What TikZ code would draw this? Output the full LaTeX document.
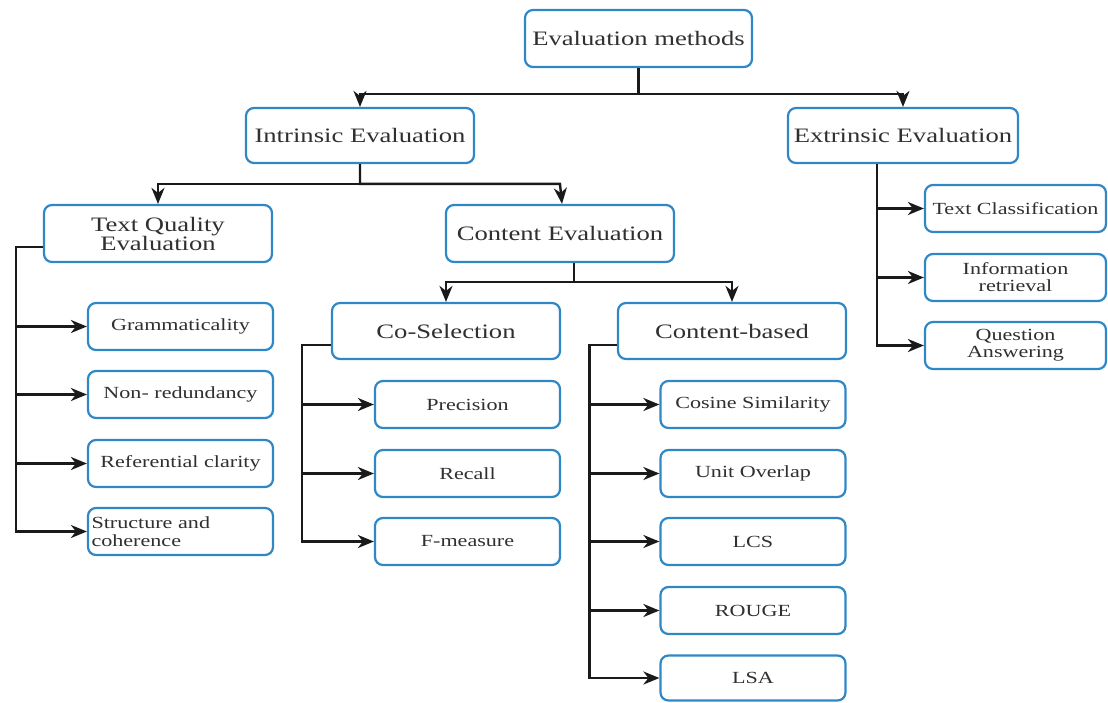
\documentclass[tikz,border=0pt]{standalone}
\usepackage{fontspec}
\setmainfont{Liberation Serif}[FakeStretch=1.3]
\usetikzlibrary{arrows.meta}
\definecolor{bblue}{HTML}{2F87C5}
\definecolor{tgray}{HTML}{303030}
\definecolor{lblack}{HTML}{1A1A1A}
\begin{document}
\begin{tikzpicture}[x=1pt,y=-1pt,
  box/.style={draw=bblue, line width=2.2pt, rounded corners=8pt, fill=white, text=tgray, inner sep=0pt},
  big/.style={box, font=\fontsize{20.5}{19}\selectfont, align=center},
  leaf/.style={box, font=\fontsize{17}{17}\selectfont, minimum width=185pt, minimum height=47pt, align=center},
  conn/.style={line width=2.4pt, draw=lblack},
  arr/.style={conn, -{Stealth[length=16pt, width=13pt, inset=5pt]}}
]
\useasboundingbox (0,0) rectangle (1108,702);
% top levels
\node[big, minimum width=227pt, minimum height=57pt] (root) at (638.5,38.5) {Evaluation methods};
\node[big, minimum width=228pt, minimum height=55pt] (intr) at (360,135.5) {Intrinsic Evaluation};
\node[big, minimum width=230pt, minimum height=55pt] (extr) at (903,135.5) {Extrinsic Evaluation};
\node[big, minimum width=228pt, minimum height=57pt] (tqe) at (158,233.5) {Text Quality\\Evaluation};
\node[big, minimum width=228pt, minimum height=57pt] (ce) at (560,233.5) {Content Evaluation};
\node[big, minimum width=228pt, minimum height=56pt] (cosel) at (446,331) {Co-Selection};
\node[big, minimum width=228pt, minimum height=56pt] (cbased) at (732,331) {Content-based};
% text quality leaves
\node[leaf] (gram) at (180.5,326.5) {Grammaticality};
\node[leaf] (nonr) at (180.5,394.5) {Non- redundancy};
\node[leaf] (refc) at (180.5,463.5) {Referential clarity};
\node[leaf, text width=178pt, inner xsep=3.5pt, align=left, font=\fontsize{17}{18}\selectfont] (struc) at (180.5,531.5) {Structure and\\coherence};
% co-selection leaves
\node[leaf] (prec) at (467.5,404.5) {Precision};
\node[leaf] (recl) at (467.5,473.5) {Recall};
\node[leaf] (fmea) at (467.5,541.5) {F-measure};
% content-based leaves
\node[leaf] (cosn) at (753,404.5) {Cosine Similarity};
\node[leaf] (unit) at (753,473.5) {Unit Overlap};
\node[leaf] (lcs) at (753,541.5) {LCS};
\node[leaf] (roug) at (753,610.5) {ROUGE};
\node[leaf, minimum height=45pt] (lsa) at (753,678) {LSA};
% extrinsic leaves
\node[leaf, minimum width=181pt] (txtc) at (1015.5,208.5) {Text Classification};
\node[leaf, minimum width=181pt] (info) at (1015.5,277.5) {Information\\retrieval};
\node[leaf, minimum width=181pt] (qans) at (1015.5,345.5) {Question\\Answering};
% connectors
\draw[arr] (root.south) |- ([yshift=13pt]intr.north) -- (intr.north);
\draw[arr] (root.south) |- ([yshift=13pt]extr.north) -- (extr.north);
\draw[arr] (intr.south) |- ([yshift=20pt]tqe.north) -- (tqe.north);
\draw[arr] (intr.south) |- ([yshift=20pt]ce.north) -- ([xshift=2pt]ce.north);
\draw[arr] ([xshift=14pt]ce.south) |- ([yshift=20pt]cosel.north) -- (cosel.north);
\draw[arr] ([xshift=14pt]ce.south) |- ([yshift=20pt]cbased.north) -- (cbased.north);
\foreach \t in {gram,nonr,refc,struc}
  \draw[arr] ([yshift=-13.5pt]tqe.west) -| ([xshift=-71pt]\t.west) -- (\t.west);
\foreach \t in {prec,recl,fmea}
  \draw[arr] ([yshift=-14pt]cosel.west) -| ([xshift=-72pt]\t.west) -- (\t.west);
\foreach \t in {cosn,unit,lcs,roug,lsa}
  \draw[arr] ([yshift=-14pt]cbased.west) -| ([xshift=-70pt]\t.west) -- (\t.west);
\foreach \t in {txtc,info,qans}
  \draw[arr] ([xshift=-26pt]extr.south) |- (\t.west);
\end{tikzpicture}
\end{document}
